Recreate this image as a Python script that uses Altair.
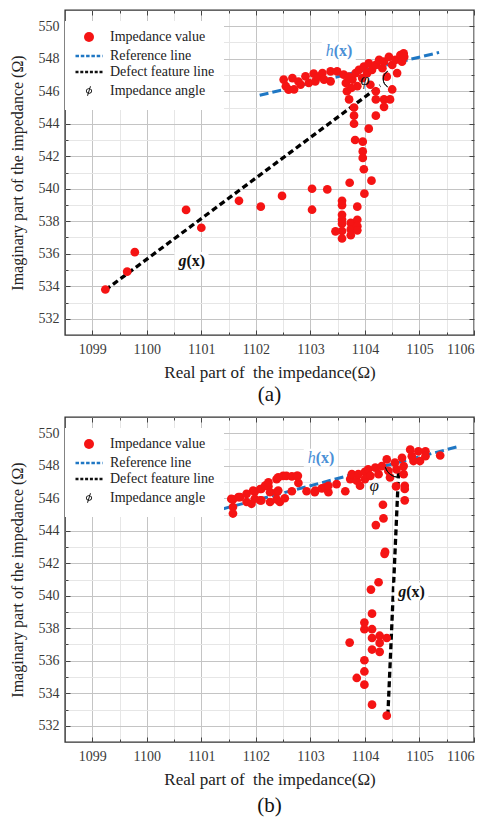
import altair as alt
import pandas as pd

SERIF = "Liberation Serif"
RED = "#f51414"
BLUE = "#1f77c4"
HBLUE = "#4a8fd6"

X_DOMAIN = [1098.5, 1106]
Y_DOMAIN = [531, 551]
X_MAJOR = [1099, 1100, 1101, 1102, 1103, 1104, 1105, 1106]
X_MINOR = [1099.5, 1100.5, 1101.5, 1102.5, 1103.5, 1104.5, 1105.5]
Y_MAJOR = [532, 534, 536, 538, 540, 542, 544, 546, 548, 550]
Y_MINOR = [533, 535, 537, 539, 541, 543, 545, 547, 549]
LEGEND_ITEMS = ["Impedance value", "Reference line", "Defect feature line", "Impedance angle"]
X_TITLE = "Real part of\u00a0 the impedance(Ω)"
Y_TITLE = "Imaginary part of the impedance (Ω)"

# ---------- panel (a) ----------
a_re = [1102.51, 1102.55, 1102.60, 1102.67, 1102.70, 1102.78, 1102.82, 1102.91, 1102.97, 1103.06,
        1103.09, 1103.15, 1103.22, 1103.25, 1103.37, 1103.37, 1103.49, 1103.61, 1103.65, 1103.67,
        1103.71, 1103.77, 1103.80, 1103.83, 1103.86, 1103.89, 1103.95, 1103.98, 1104.04, 1104.07,
        1104.13, 1104.20, 1104.26, 1104.32, 1104.35, 1104.44, 1104.50, 1104.56, 1104.65, 1104.71,
        1104.68, 1104.59, 1104.72, 1104.40, 1104.10, 1103.70, 1103.75,
        1104.20, 1104.50, 1104.20, 1104.35, 1104.46, 1104.35, 1104.20, 1103.80, 1103.80, 1104.07,
        1103.82, 1103.96, 1103.96, 1103.96, 1103.98, 1103.99, 1104.12, 1103.72, 1103.86, 1103.31,
        1103.03, 1103.03, 1102.48, 1102.09, 1101.69, 1101.00, 1100.72, 1099.78, 1099.64, 1099.24,
        1103.58, 1103.58, 1103.58, 1103.58, 1103.58, 1103.58, 1103.58, 1103.46, 1103.74, 1103.74,
        1103.74, 1103.86, 1103.86, 1103.86]
a_im = [546.72, 546.31, 546.10, 546.81, 546.11, 546.60, 546.41, 546.92, 546.51, 547.08,
        546.61, 546.90, 547.12, 546.72, 547.22, 546.61, 547.22, 547.02, 546.51, 546.00,
        545.50, 546.72, 545.00, 547.12, 546.31, 547.32, 546.81, 547.52, 547.12, 547.72,
        547.32, 547.62, 547.93, 547.42, 547.82, 548.12, 547.62, 547.93, 548.23, 548.33,
        547.82, 547.12, 548.12, 546.90, 546.40, 546.90, 546.20,
        546.00, 546.11, 545.50, 545.50, 545.50, 545.04, 544.50, 544.50, 544.00, 543.70,
        543.00, 542.90, 542.30, 541.90, 541.20, 539.70, 540.50, 540.37, 538.90, 539.96,
        540.00, 538.71, 539.56, 538.90, 539.26, 537.60, 538.70, 536.10, 534.90, 533.80,
        539.26, 538.99, 538.40, 538.10, 537.85, 537.40, 536.94, 537.38, 537.90, 537.50,
        537.14, 538.09, 537.70, 537.44]
a_h_re = [1102.07, 1105.36]
a_h_im = [545.75, 548.39]
a_g_re = [1099.24, 1104.28]
a_g_im = [533.77, 546.35]
a_hlab = [1103.52, 548.47]
a_glab = [1100.82, 535.56]
a_philab = [1104.00, 546.67]
a_arc = [1104.50, 546.75]
a_arc_theta = [3.67, 5.76]
a_arc_r = 9

# ---------- panel (b) ----------
b_re = [1101.58, 1101.58, 1101.58, 1101.55, 1101.68, 1101.71, 1101.83, 1101.83, 1101.92, 1101.95,
        1101.98, 1101.98, 1102.08, 1102.08, 1102.10, 1102.10, 1102.17, 1102.23, 1102.23, 1102.26,
        1102.26, 1102.38, 1102.38, 1102.38, 1102.41, 1102.41, 1102.44, 1102.50, 1102.53, 1102.56,
        1102.66, 1102.66, 1102.75, 1102.77, 1102.78, 1102.93, 1103.08, 1103.09, 1103.21, 1103.27,
        1103.33, 1103.33, 1103.48, 1103.64, 1103.73, 1103.76, 1103.85, 1103.88, 1103.91, 1104.00,
        1104.00, 1104.06, 1104.10, 1104.19, 1104.25, 1104.31, 1104.40, 1104.43, 1104.46, 1104.55,
        1104.58, 1104.68, 1104.71, 1104.83, 1104.86, 1104.89, 1104.98, 1105.01, 1105.11, 1105.11,
        1105.38, 1104.71, 1104.73, 1104.73, 1104.73, 1104.57,
        1104.33, 1104.34, 1104.20, 1104.37, 1104.36, 1104.25, 1104.11, 1104.13, 1103.99, 1103.99,
        1104.13, 1104.13, 1104.27, 1104.27, 1104.40, 1104.13, 1104.27, 1103.72, 1103.99, 1103.99,
        1103.85, 1103.99, 1104.13, 1104.40]
b_im = [545.93, 545.46, 545.06, 545.96, 546.07, 546.07, 546.27, 545.77, 545.66, 546.47,
        546.41, 545.97, 546.57, 545.87, 546.57, 545.87, 546.78, 546.73, 546.98, 545.77,
        546.37, 547.18, 546.37, 545.93, 547.28, 546.47, 545.77, 547.38, 546.00, 547.38,
        547.34, 546.43, 547.38, 547.38, 546.94, 546.43, 546.37, 546.47, 546.61, 546.67,
        546.37, 546.77, 546.87, 546.43, 547.18, 547.48, 547.08, 547.48, 546.77, 547.62,
        547.18, 547.78, 547.38, 547.88, 547.48, 547.98, 548.39, 547.68, 547.28, 548.19,
        547.78, 548.49, 547.98, 548.99, 548.59, 548.29, 548.89, 548.29, 548.89, 548.59,
        548.63, 547.48, 546.77, 546.57, 545.87, 546.73,
        545.60, 544.76, 544.35, 542.70, 542.58, 540.83, 540.38, 538.90, 538.35, 537.94,
        537.94, 537.40, 537.54, 537.10, 537.40, 536.69, 536.55, 537.12, 536.03, 535.34,
        534.94, 534.53, 533.30, 532.62]
b_h_re = [1101.14, 1105.72]
b_h_im = [545.12, 549.19]
b_g_re = [1104.42, 1104.62]
b_g_im = [532.62, 547.90]
b_hlab = [1103.19, 548.49]
b_glab = [1104.85, 540.26]
b_philab = [1104.17, 546.73]
b_arc = [1104.62, 548.15]
b_arc_theta = [3.2, 4.45]
b_arc_r = 14

W, H = 409, 325

PHI_PATH = ("M0.62,0A0.62,0.55 0 1,1 -0.62,0A0.62,0.55 0 1,1 0.62,0Z"
            "M0.44,0A0.44,0.38 0 1,0 -0.44,0A0.44,0.38 0 1,0 0.44,0Z"
            "M0.2,-0.95L0.4,-0.95L-0.2,0.95L-0.4,0.95Z")
SHAPE_EXPR = ("datum.value === 'Impedance value' ? 'circle' : "
              f"datum.value === 'Impedance angle' ? '{PHI_PATH}' : 'M-2.7,0H2.7'")
STROKE_EXPR = ("(datum.value === 'Impedance value' || datum.value === 'Impedance angle') ? 'transparent' : "
               f"datum.value === 'Reference line' ? '{BLUE}' : '#111111'")
DASH_EXPR = ("datum.value === 'Reference line' ? [3.5, 1.8] : "
             "datum.value === 'Defect feature line' ? [3, 1.8] : [1, 0]")


def make_legend():
    return alt.Legend(
        title=None, orient="none", legendX=0, legendY=11, fillColor="white",
        padding=9, zindex=2, labelFont=SERIF, labelFontSize=14, labelColor="#222222",
        rowPadding=2, symbolSize=100, symbolOffset=8, labelOffset=14,
        symbolType={"expr": SHAPE_EXPR},
        symbolStrokeColor={"expr": STROKE_EXPR},
        symbolDash={"expr": DASH_EXPR},
        symbolStrokeWidth=2.5,
    )


def panel(re, im, h_re, h_im, g_re, g_im, hlab, glab, philab, arc, arc_theta, arc_r, caption, cap_off):
    xsc = alt.Scale(domain=X_DOMAIN, nice=False, zero=False)
    ysc = alt.Scale(domain=Y_DOMAIN, nice=False, zero=False)
    pts = pd.DataFrame({"re": re, "im": im, "kind": "Impedance value"})
    base = alt.Chart(pts)

    def ax(values, orient, **kw):
        return alt.Axis(values=values, orient=orient, labels=False, title=None, domain=False, **kw)

    tick_kw = dict(tickColor="#444444", tickWidth=1)
    grid_major = base.mark_point(opacity=0).encode(
        x=alt.X("re:Q", scale=xsc, axis=ax(X_MAJOR, "bottom", grid=True, gridColor="#c4c4c4", gridWidth=1,
                                             tickSize={"expr": "-5"}, zindex=0, **tick_kw)),
        y=alt.Y("im:Q", scale=ysc, axis=ax(Y_MAJOR, "left", grid=True, gridColor="#c4c4c4", gridWidth=1,
                                             tickSize={"expr": "-5"}, zindex=0, **tick_kw)),
    )
    grid_minor = base.mark_point(opacity=0).encode(
        x=alt.X("re:Q", scale=xsc, axis=ax(X_MINOR, "bottom", grid=True, gridColor="#e6e6e6", gridWidth=1,
                                             tickSize={"expr": "-3"}, zindex=0, **tick_kw)),
        y=alt.Y("im:Q", scale=ysc, axis=ax(Y_MINOR, "left", grid=True, gridColor="#e6e6e6", gridWidth=1,
                                             tickSize={"expr": "-3"}, zindex=0, **tick_kw)),
    )
    top_major = base.mark_point(opacity=0).encode(
        x=alt.X("re:Q", scale=xsc, axis=ax(X_MAJOR, "top", grid=False, tickSize={"expr": "-5"}, **tick_kw)),
        y=alt.Y("im:Q", scale=ysc, axis=ax(Y_MAJOR, "right", grid=False, tickSize={"expr": "-5"}, **tick_kw)),
    )
    top_minor = base.mark_point(opacity=0).encode(
        x=alt.X("re:Q", scale=xsc, axis=ax(X_MINOR, "top", grid=False, tickSize={"expr": "-3"}, **tick_kw)),
        y=alt.Y("im:Q", scale=ysc, axis=ax(Y_MINOR, "right", grid=False, tickSize={"expr": "-3"}, **tick_kw)),
    )

    xlab_axis = alt.Axis(values=X_MAJOR, orient="bottom", grid=False, ticks=False, domain=False,
                         title=X_TITLE, labelPadding=7, titlePadding=8, format="d", titleFontSize=17)
    ylab_axis = alt.Axis(values=Y_MAJOR, orient="left", grid=False, ticks=False, domain=False,
                         title=Y_TITLE, labelPadding=6, titlePadding=13, format="d")

    hline = alt.Chart(pd.DataFrame({"re": h_re, "im": h_im})).mark_line(
        color=BLUE, strokeWidth=3, strokeDash=[9, 4]).encode(
        x=alt.X("re:Q", scale=xsc, axis=None), y=alt.Y("im:Q", scale=ysc, axis=None))
    gline = alt.Chart(pd.DataFrame({"re": g_re, "im": g_im})).mark_line(
        color="#000000", strokeWidth=3.3, strokeDash=[6, 3.5]).encode(
        x=alt.X("re:Q", scale=xsc, axis=None), y=alt.Y("im:Q", scale=ysc, axis=None))

    scatter = base.mark_circle(size=76, opacity=1).encode(
        x=alt.X("re:Q", scale=xsc, axis=xlab_axis),
        y=alt.Y("im:Q", scale=ysc, axis=ylab_axis),
        color=alt.Color("kind:N", scale=alt.Scale(domain=LEGEND_ITEMS, range=[RED, BLUE, "#111111", "#111111"]),
                        legend=make_legend()),
    )

    lab_df = pd.DataFrame({"re": [hlab[0], glab[0]], "im": [hlab[1], glab[1]]})
    boxes = alt.Chart(lab_df).mark_rect(width=34, height=18, color="white").encode(
        x=alt.X("re:Q", scale=xsc, axis=None), y=alt.Y("im:Q", scale=ysc, axis=None))

    def txt(pt, s, color, style, weight, align, dx, size=16):
        return alt.Chart(pd.DataFrame({"re": [pt[0]], "im": [pt[1]], "t": [s]})).mark_text(
            font=SERIF, fontSize=size, fontStyle=style, fontWeight=weight, color=color,
            align=align, baseline="middle", dx=dx).encode(
            x=alt.X("re:Q", scale=xsc, axis=None), y=alt.Y("im:Q", scale=ysc, axis=None), text="t:N")

    h1 = txt(hlab, "h", HBLUE, "italic", "normal", "right", -5)
    h2 = txt(hlab, "(x)", HBLUE, "normal", "bold", "left", -5)
    g1 = txt(glab, "g", "#111111", "italic", "bold", "right", -5)
    g2 = txt(glab, "(x)", "#111111", "normal", "bold", "left", -5)
    phi = txt(philab, "φ", "#111111", "italic", "normal", "center", 0, 17)

    arc_mark = alt.Chart(pd.DataFrame({"re": [arc[0]], "im": [arc[1]]})).mark_arc(
        radius=arc_r, radius2=arc_r, theta=arc_theta[0], theta2=arc_theta[1],
        stroke="#111111", strokeWidth=1, fill="transparent").encode(
        x=alt.X("re:Q", scale=xsc, axis=None), y=alt.Y("im:Q", scale=ysc, axis=None))

    return alt.layer(
        grid_minor, grid_major, top_major, top_minor,
        hline, gline, scatter, boxes, h1, h2, g1, g2, phi, arc_mark,
    ).resolve_axis(x="independent", y="independent").properties(
        width=W, height=H,
        title=alt.TitleParams(caption, orient="bottom", anchor="middle", font=SERIF, fontSize=21,
                              fontWeight="normal", color="#111111", offset=cap_off),
    )


pa = panel(a_re, a_im, a_h_re, a_h_im, a_g_re, a_g_im, a_hlab, a_glab, a_philab,
           a_arc, a_arc_theta, a_arc_r, "(a)", 4)
pb = panel(b_re, b_im, b_h_re, b_h_im, b_g_re, b_g_im, b_hlab, b_glab, b_philab,
           b_arc, b_arc_theta, b_arc_r, "(b)", 8)

chart = alt.vconcat(pa, pb, spacing=9).resolve_scale(color="independent").properties(
    padding={"left": 0, "top": 0, "right": 0, "bottom": 0}
).configure_view(stroke="#333333", strokeWidth=1.4).configure_axis(
    labelFont=SERIF, labelFontSize=14, labelColor="#3a3a3a",
    titleFont=SERIF, titleFontSize=16, titleFontWeight="normal", titleColor="#222222",
)

chart.save("out.html", embed_options={"renderer": "svg", "actions": False})
